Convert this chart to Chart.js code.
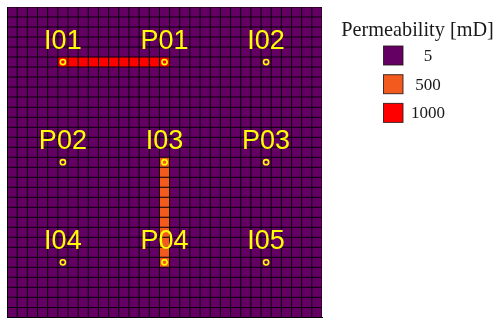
<!DOCTYPE html>
<html>
<head>
<meta charset="utf-8">
<script src="https://cdn.jsdelivr.net/npm/chart.js@4"></script>
<style>
html,body{margin:0;padding:0;background:#fff;}
#wrap{width:496px;height:323px;}
</style>
</head>
<body>
<div id="wrap"><canvas id="c" width="496" height="323"></canvas></div>
<script>
// ---- data ----
const nCols = 31;
const nRows = 31;
const permLevels = [5, 500, 1000];
const permLabels = ['5', '500', '1000'];
// high-permeability channel (1000 mD): row 5 (from top), columns 5..15
const channel1000Row = 5;
const channel1000Cols = [5, 6, 7, 8, 9, 10, 11, 12, 13, 14, 15];
// medium-permeability channel (500 mD): column 15, rows 15..25 (from top)
const channel500Col = 15;
const channel500Rows = [15, 16, 17, 18, 19, 20, 21, 22, 23, 24, 25];
// wells
const wellNames = ['I01', 'P01', 'I02', 'P02', 'I03', 'P03', 'I04', 'P04', 'I05'];
const wellCols  = [5, 15, 25, 5, 15, 25, 5, 15, 25];
const wellRows  = [5, 5, 5, 15, 15, 15, 25, 25, 25];

// ---- styles ----
const permColors = {5: '#640064', 500: '#f25a1e', 1000: '#ff0000'};
const wellColor = '#ffff00';

function permAt(row, col) {
  if (row === channel1000Row && channel1000Cols.includes(col)) return 1000;
  if (col === channel500Col && channel500Rows.includes(row)) return 500;
  return 5;
}

const colLabels = Array.from({length: nCols}, (_, i) => String(i));
const datasets = [];
for (let k = 0; k < nRows; k++) {
  const row = nRows - 1 - k;
  datasets.push({
    type: 'bar',
    label: 'row' + row,
    data: colLabels.map(() => 1),
    backgroundColor: colLabels.map((_, c) => permColors[permAt(row, c)]),
    borderColor: '#000000',
    borderWidth: 0.5,
    borderSkipped: false,
    categoryPercentage: 1,
    barPercentage: 1,
    inflateAmount: 0,
    order: 2
  });
}
datasets.push({
  type: 'line',
  label: 'wells',
  data: wellNames.map((n, i) => ({x: colLabels[wellCols[i]], y: nRows - wellRows[i] - 0.5})),
  pointRadius: 2.6,
  pointBorderWidth: 1.6,
  pointBorderColor: wellColor,
  pointBackgroundColor: 'rgba(0,0,0,0)',
  showLine: false,
  stack: 'wells',
  order: 0
});

const areaBgPlugin = {
  id: 'areaBg',
  beforeDatasetsDraw(chart) {
    const a = chart.chartArea, ctx = chart.ctx;
    ctx.save();
    ctx.fillStyle = '#120012';
    ctx.fillRect(a.left, a.top, a.right - a.left, a.bottom - a.top);
    ctx.restore();
  }
};

const wellLabelPlugin = {
  id: 'wellLabels',
  afterDraw(chart) {
    const ctx = chart.ctx;
    const xs = chart.scales.x, ys = chart.scales.y;
    ctx.save();
    ctx.font = '27px "Liberation Sans", Arial, sans-serif';
    ctx.fillStyle = wellColor;
    ctx.textAlign = 'center';
    ctx.textBaseline = 'alphabetic';
    wellNames.forEach((n, i) => {
      const px = xs.getPixelForValue(wellCols[i]);
      const py = ys.getPixelForValue(nRows - wellRows[i] - 0.5);
      ctx.fillText(n, px, py - 13.5);
    });
    ctx.restore();
  }
};

const legendPlugin = {
  id: 'permLegend',
  afterDraw(chart) {
    const ctx = chart.ctx;
    ctx.save();
    ctx.fillStyle = '#1a1a1a';
    ctx.textAlign = 'center';
    ctx.textBaseline = 'alphabetic';
    ctx.font = '20.3px "Liberation Serif", "Times New Roman", serif';
    ctx.fillText('Permeability [mD]', 417.5, 36);
    ctx.font = '17px "Liberation Serif", "Times New Roman", serif';
    permLevels.forEach((v, i) => {
      const y0 = 46 + i * 28.7;
      ctx.fillStyle = permColors[v];
      ctx.fillRect(383.5, y0, 19.5, 19);
      ctx.strokeStyle = 'rgba(40,20,20,0.85)';
      ctx.lineWidth = 1;
      ctx.strokeRect(383.5, y0, 19.5, 19);
      ctx.fillStyle = '#1a1a1a';
      ctx.fillText(permLabels[i], 428, y0 + 15);
    });
    ctx.restore();
  }
};

new Chart(document.getElementById('c'), {
  data: {labels: colLabels, datasets: datasets},
  options: {
    responsive: false,
    animation: false,
    devicePixelRatio: 1,
    layout: {padding: {left: 7, top: 7, right: 174, bottom: -3}},
    plugins: {legend: {display: false}, tooltip: {enabled: false}},
    scales: {
      x: {
        type: 'category',
        offset: true,
        stacked: true,
        ticks: {display: false, autoSkip: false, padding: 0},
        grid: {display: false, drawTicks: false},
        border: {display: true, color: '#000', width: 1, z: 1}
      },
      y: {
        type: 'linear',
        stacked: true,
        min: 0,
        max: nRows,
        ticks: {display: false, stepSize: 1, maxTicksLimit: 100, padding: 0},
        grid: {display: false, drawTicks: false},
        border: {display: true, color: '#000', width: 1, z: 1}
      }
    }
  },
  plugins: [areaBgPlugin, wellLabelPlugin, legendPlugin]
});
</script>
</body>
</html>
